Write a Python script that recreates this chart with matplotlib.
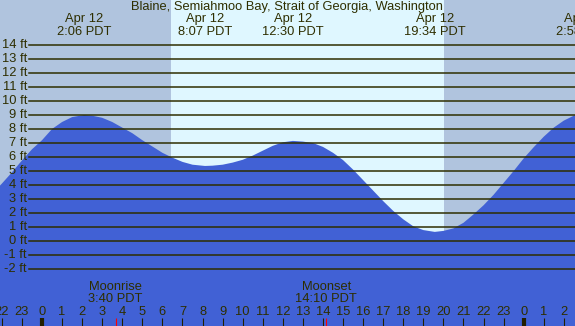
import matplotlib
matplotlib.use('Agg')
import matplotlib.pyplot as plt
import numpy as np

plt.rcParams['font.family'] = ['Liberation Sans', 'DejaVu Sans']

# tide height (ft), hours from midnight Apr 12
tide_hours = [-2.1, -2.0, -1.5, -1.0, -0.5, 0.0, 0.5, 1.0, 1.5, 2.1, 2.5, 3.0, 3.5,
              4.0, 4.5, 5.0, 5.5, 6.0, 6.5, 7.0, 7.5, 8.12, 8.5, 9.0, 9.5, 10.0,
              10.5, 11.0, 11.5, 12.0, 12.5, 13.0, 13.5, 14.0, 14.5, 15.0, 15.5,
              16.0, 16.5, 17.0, 17.5, 18.0, 18.5, 19.0, 19.57, 20.0, 20.5, 21.0,
              21.5, 22.0, 22.5, 23.0, 23.5, 24.0, 24.5, 25.0, 25.5, 26.0, 26.5, 26.6]
tide_ft = [3.95, 4.1, 4.9, 5.75, 6.55, 7.2, 8.0, 8.5, 8.85, 9.0, 8.95, 8.8, 8.5,
           8.1, 7.7, 7.2, 6.75, 6.3, 5.95, 5.65, 5.45, 5.36, 5.38, 5.45, 5.6, 5.8,
           6.1, 6.45, 6.8, 7.05, 7.15, 7.1, 7.0, 6.72, 6.3, 5.78, 5.1,
           4.35, 3.6, 2.85, 2.15, 1.55, 1.05, 0.78, 0.65, 0.72, 0.9, 1.3,
           1.9, 2.55, 3.3, 4.15, 5.0, 5.9, 6.7, 7.45, 8.1, 8.6, 8.95, 9.0]

# high / low tide labels
extreme_hours = [2.1, 8.117, 12.5, 19.567, 26.97]
extreme_dates = ['Apr 12', 'Apr 12', 'Apr 12', 'Apr 12', 'Apr 13']
extreme_times = ['2:06 PDT', '8:07 PDT', '12:30 PDT', '19:34 PDT', '2:58 PDT']

sunrise, sunset = 6.43, 20.03
moon_hours = [3.667, 14.167]
moon_names = ['Moonrise', 'Moonset']
moon_times = ['3:40 PDT', '14:10 PDT']

grid_ft = list(range(-2, 15))
hour_ticks = list(range(-2, 27))

x0, x1 = -2.093, 26.557
y0, y1 = -6.071, 17.214

night = '#b0c4de'
day = '#dff7ff'
water = '#4161d5'
ink = '#2e2e00'
fs = 9.3

fig = plt.figure(figsize=(5.75, 3.26), dpi=100)
ax = fig.add_axes([0, 0, 1, 1])
ax.set_xlim(x0, x1)
ax.set_ylim(y0, y1)
ax.axis('off')

ax.axvspan(x0, sunrise, color=night, lw=0)
ax.axvspan(sunrise, sunset, color=day, lw=0)
ax.axvspan(sunset, x1, color=night, lw=0)

ax.fill_between(tide_hours, tide_ft, y0, color=water, lw=0)

# horizontal grid + labels
for g in grid_ft:
    ax.plot([-0.65, x1], [g, g], color=ink, lw=1.1)
    ax.text(-0.75, g, '%d ft' % g, ha='right', va='center', fontsize=fs, color=ink)

ax.text(12.21, 16.71, 'Blaine, Semiahmoo Bay, Strait of Georgia, Washington',
        ha='center', va='center', fontsize=fs, color=ink)

for h, d, t in zip(extreme_hours, extreme_dates, extreme_times):
    ax.text(h, 15.86, d, ha='center', va='center', fontsize=fs, color=ink)
    ax.text(h, 14.93, t, ha='center', va='center', fontsize=fs, color=ink)

# hour ticks
for h in hour_ticks:
    ax.text(h, -5.05, str(h % 24), ha='center', va='center', fontsize=fs, color=ink)
    w = 3 if h % 24 == 0 else 0.8
    ax.plot([h, h], [-5.5, y0], color='#221f00', lw=w, solid_capstyle='butt')

for h, n, t in zip(moon_hours, moon_names, moon_times):
    ax.plot([h, h], [-5.5, y0], color='red', lw=0.8, solid_capstyle='butt')
    ax.text(h, -3.29, n, ha='center', va='center', fontsize=fs, color=ink)
    ax.text(h, -4.14, t, ha='center', va='center', fontsize=fs, color=ink)

fig.savefig('out.png', dpi=100)
